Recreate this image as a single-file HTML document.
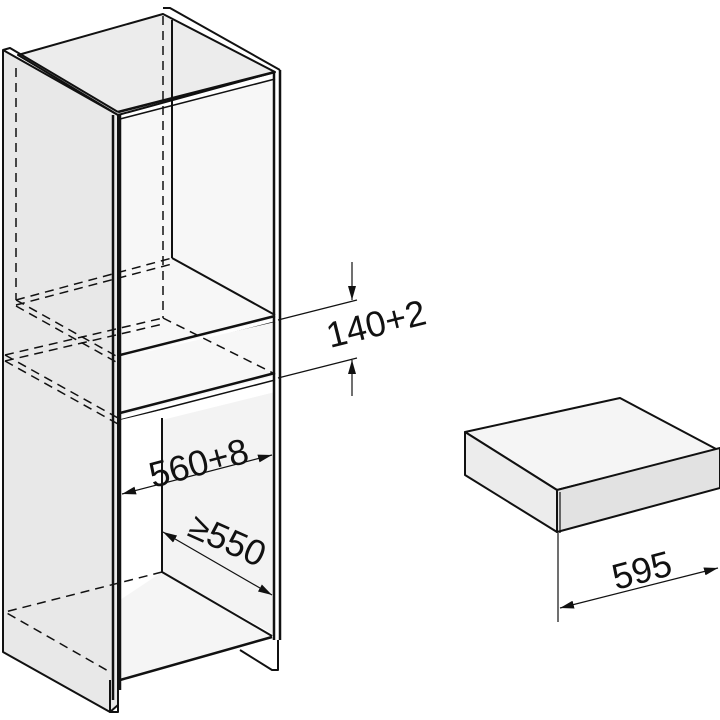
<!DOCTYPE html>
<html><head><meta charset="utf-8"><style>
html,body{margin:0;padding:0;background:#fff;}
svg{display:block;}
text{font-family:"Liberation Sans",sans-serif;fill:#111;}
</style></head><body>
<svg width="720" height="720" viewBox="0 0 720 720" xmlns="http://www.w3.org/2000/svg">
<defs>
<marker id="a" markerWidth="14" markerHeight="8" refX="14" refY="4" orient="auto-start-reverse" markerUnits="userSpaceOnUse">
<path d="M0,0 L14,4 L0,8 Z" fill="#111"/></marker>
</defs>
<g stroke="#111" stroke-linejoin="round" fill="none">
<path d="M3,50 L118,115 L118,705 L110,712 L3,652 Z" fill="#e8e8e8" stroke-width="2"/>
<path d="M18,55 L163,14 L275,72 L118,115 Z" fill="#ececec" stroke-width="2"/>
<path d="M3,50 L10,48 L118,112" stroke-width="2"/>
<path d="M163,8 L170,8 L280,70" stroke-width="2"/>
<path d="M120,118 L275,78 L275,318 L120,358 Z" fill="#f7f7f7" stroke="none"/>
<path d="M172,20 L172,258" stroke-width="2"/>
<path d="M172,258 L275,315" stroke-width="2"/>
<path d="M120,355 L275,316" stroke-width="2.5"/>
<path d="M120,362 L275,322" stroke-width="1.5"/>
<path d="M120,358 L275,322 L275,376 L120,416 Z" fill="#f7f7f7" stroke="none"/>
<path d="M120,413 L275,373" stroke-width="2.5"/>
<path d="M120,420 L275,380" stroke-width="1.5"/>
<path d="M120,420 L162,410 L162,572 L120,582 Z" fill="#fff" stroke="none"/>
<path d="M162,420 L275,392 L275,635 L162,572 Z" fill="#f3f3f3" stroke="none"/>
<path d="M120,600 L162,572 L272,636 L120,680 Z" fill="#f5f5f5" stroke="none"/>
<path d="M162,418 L162,572 L272,636" stroke-width="2"/>
<path d="M120,680 L272,637" stroke-width="2.5"/>
<path d="M113,115 L113,700 M120,115 L120,690" stroke-width="2.5"/>
<path d="M118,112 L275,72" stroke-width="2.5"/>
<path d="M120,119 L275,79" stroke-width="1.5"/>
<path d="M274,72 L274,640 M280,70 L280,640" stroke-width="2.5"/>
<path d="M110,680 L110,712 L118,712 L118,680" stroke-width="2"/>
<path d="M240,650 L272,670 L278,670 L278,640" stroke-width="2"/>
<g stroke-dasharray="9,6" stroke-width="1.5">
<path d="M16,68 L16,300 M163,16 L163,318"/>
<path d="M16,300 L172,258 M16,305 L172,264"/>
<path d="M16,300 L118,357 M16,306 L118,363"/>
<path d="M5,355 L163,318 M5,361 L163,324"/>
<path d="M5,355 L118,418 M5,361 L118,424"/>
<path d="M163,318 L275,374"/>
<path d="M162,572 L5,612 L110,672"/>
</g>
</g>
<g stroke="#111" stroke-width="1.2" fill="none">
<path d="M278,320 L357,300 M278,378 L357,358"/>
<path d="M352,262 L352,300" marker-end="url(#a)"/>
<path d="M352,396 L352,360" marker-end="url(#a)"/>
<path d="M122,494 L272,455" marker-start="url(#a)" marker-end="url(#a)"/>
<path d="M163,532 L272,595" marker-start="url(#a)" marker-end="url(#a)"/>
</g>
<text x="0" y="0" font-size="36" transform="translate(330,348) rotate(-14)">140+2</text>
<text x="0" y="0" font-size="36" transform="translate(153,488) rotate(-15)">560+8</text>
<text x="0" y="0" font-size="36" transform="translate(186,535) rotate(24)">≥550</text>
<g stroke="#111" stroke-width="2" stroke-linejoin="round">
<path d="M465,432 L620,398 L718,450 L557,490 Z" fill="#f5f5f5"/>
<path d="M465,432 L465,475 L557,532 L557,490 Z" fill="#ececec"/>
<path d="M557,490 L720,448 L720,488 L557,532 Z" fill="#e2e2e2"/>
<path d="M560,492 L560,533" stroke-width="1.2"/>
</g>
<g stroke="#111" stroke-width="1.2" fill="none">
<path d="M558,533 L558,622"/>
<path d="M560,608 L718,568" marker-start="url(#a)" marker-end="url(#a)"/>
</g>
<text x="0" y="0" font-size="36" transform="translate(616,590) rotate(-15)">595</text>
</svg>
</body></html>
